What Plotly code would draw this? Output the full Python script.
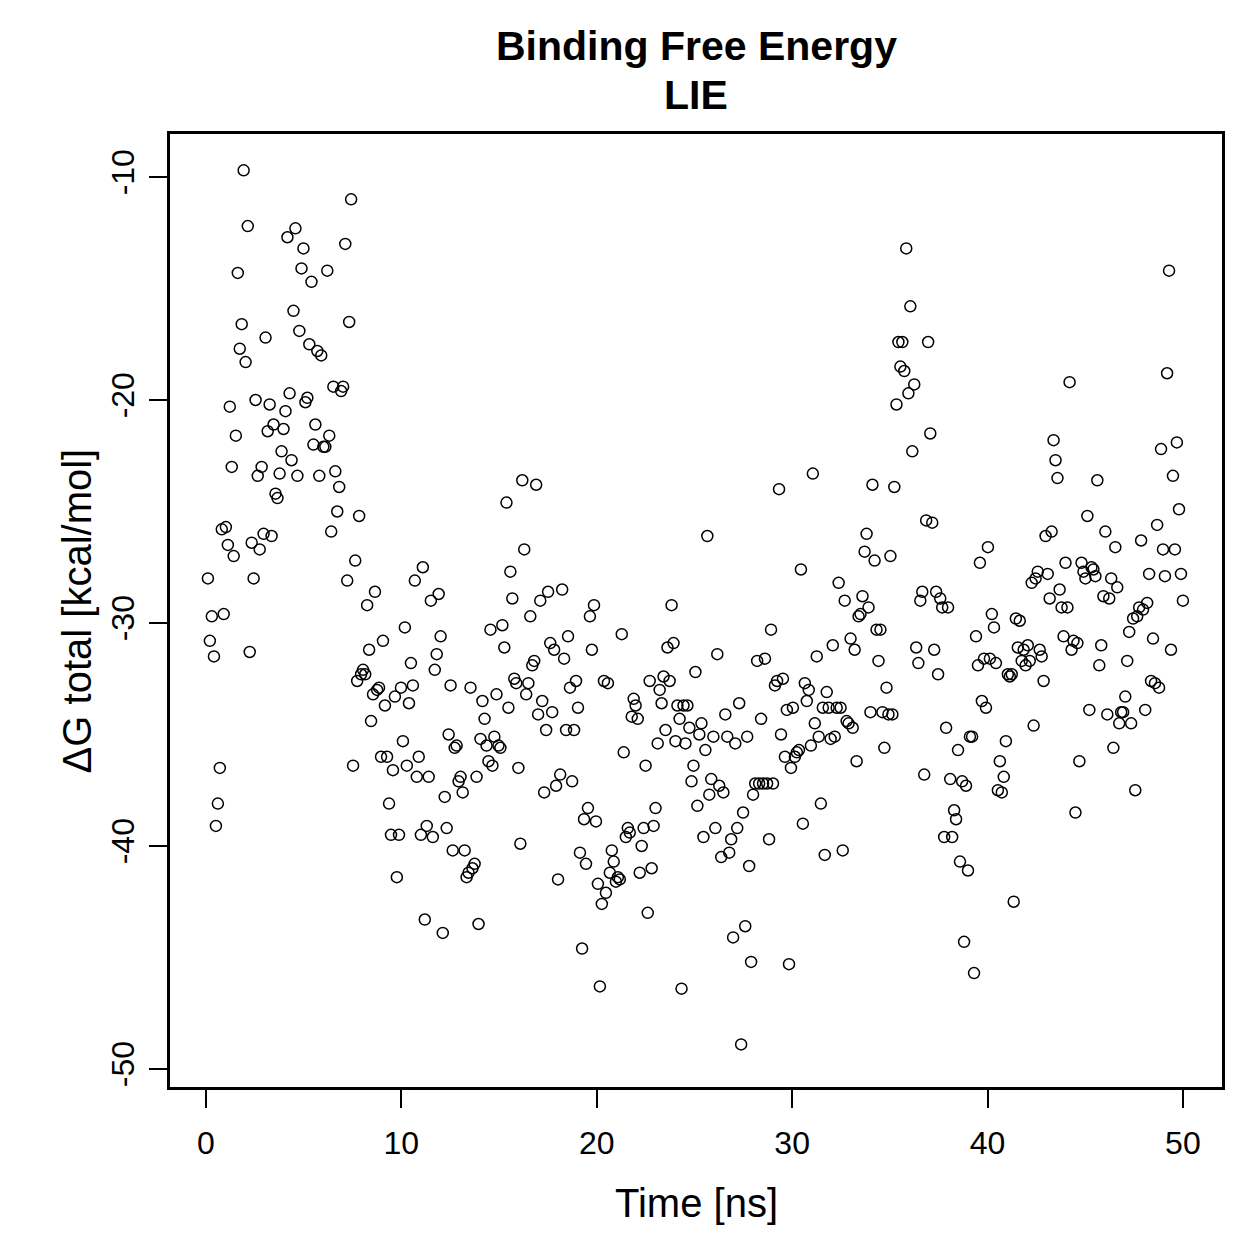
import numpy as np
import plotly.graph_objects as go

# Binding free energy (LIE), kcal/mol, sampled every 0.1 ns
energy = [
    -28.0, -30.8, -29.7, -31.5, -39.1, -38.1, -36.5, -25.8, -29.6, -25.7,
    -26.5, -20.3, -23.0, -27.0, -21.6, -14.3, -17.7, -16.6, -9.7, -18.3,
    -12.2, -31.3, -26.4, -28.0, -20.0, -23.4, -26.7, -23.0, -26.0, -17.2,
    -21.4, -20.2, -26.1, -21.1, -24.2, -24.4, -23.3, -22.3, -21.3, -20.5,
    -12.7, -19.7, -22.7, -16.0, -12.3, -23.4, -16.9, -14.1, -13.2, -20.1,
    -19.9, -17.5, -14.7, -22.0, -21.1, -17.8, -23.4, -18.0, -22.1, -22.1,
    -14.2, -21.6, -25.9, -19.4, -23.2, -25.0, -23.9, -19.6, -19.4, -13.0,
    -28.1, -16.5, -11.0, -36.4, -27.2, -32.6, -25.2, -32.3, -32.1, -32.3,
    -29.2, -31.2, -34.4, -33.2, -28.6, -33.0, -32.9, -36.0, -30.8, -33.7,
    -36.0, -38.1, -39.5, -36.6, -33.3, -41.4, -39.5, -32.9, -35.3, -30.2,
    -36.4, -33.6, -31.8, -32.8, -28.1, -36.9, -36.0, -39.5, -27.5, -43.3,
    -39.1, -36.9, -29.0, -39.6, -32.1, -31.4, -28.7, -30.6, -43.9, -37.8,
    -39.2, -35.0, -32.8, -40.2, -35.6, -35.5, -37.1, -36.9, -37.6, -40.2,
    -41.4, -41.2, -32.9, -41.0, -40.8, -36.9, -43.5, -35.2, -33.5, -34.3,
    -35.5, -36.2, -30.3, -36.4, -35.1, -33.2, -35.5, -35.6, -30.1, -31.1,
    -24.6, -33.8, -27.7, -28.9, -32.5, -32.7, -36.5, -39.9, -23.6, -26.7,
    -33.2, -32.7, -29.7, -31.9, -31.7, -23.8, -34.1, -29.0, -33.5, -37.6,
    -34.8, -28.6, -30.9, -34.0, -31.2, -37.3, -41.5, -36.8, -28.5, -31.6,
    -34.8, -30.6, -32.9, -37.1, -34.8, -32.6, -33.8, -40.3, -44.6, -38.8,
    -40.8, -38.3, -29.7, -31.2, -29.2, -38.9, -41.7, -46.3, -42.6, -32.6,
    -42.1, -32.7, -41.2, -40.2, -40.7, -41.6, -41.4, -41.5, -30.5, -35.8,
    -39.6, -39.2, -39.4, -34.2, -33.4, -33.7, -34.3, -41.2, -40.0, -39.2,
    -36.4, -43.0, -32.6, -41.0, -39.1, -38.3, -35.4, -33.0, -33.6, -32.4,
    -34.8, -31.1, -32.6, -29.2, -30.9, -35.3, -33.7, -34.3, -46.4, -33.7,
    -35.4, -33.7, -34.7, -37.1, -36.4, -32.2, -38.2, -35.0, -34.5, -39.6,
    -35.7, -26.1, -37.7, -37.0, -35.1, -39.2, -31.4, -37.3, -40.5, -37.6,
    -34.1, -35.1, -40.3, -39.7, -44.1, -35.4, -39.2, -33.6, -48.9, -38.5,
    -43.6, -35.1, -40.9, -45.2, -37.7, -37.2, -31.7, -37.2, -34.3, -37.2,
    -31.6, -37.2, -39.7, -30.3, -37.2, -32.8, -32.6, -24.0, -35.0, -32.5,
    -36.0, -33.9, -45.3, -36.5, -33.8, -36.0, -35.8, -35.7, -27.6, -39.0,
    -32.7, -33.5, -33.0, -35.5, -23.3, -34.5, -31.5, -35.1, -38.1, -33.8,
    -40.4, -33.1, -33.8, -35.2, -31.0, -35.1, -33.8, -28.2, -33.8, -40.2,
    -29.0, -34.4, -34.5, -30.7, -34.7, -31.2, -36.2, -29.7, -29.6, -28.8,
    -26.8, -26.0, -29.3, -34.0, -23.8, -27.2, -30.3, -31.7, -30.3, -34.0,
    -35.6, -32.9, -34.1, -27.0, -34.1, -23.9, -20.2, -17.4, -18.5, -17.4,
    -18.7, -13.2, -19.7, -15.8, -22.3, -19.3, -31.1, -31.8, -29.0, -28.6,
    -36.8, -25.4, -17.4, -21.5, -25.5, -31.2, -28.6, -32.3, -28.9, -29.3,
    -39.6, -34.7, -29.3, -37.0, -39.6, -38.4, -38.8, -35.7, -40.7, -37.1,
    -44.3, -37.3, -41.1, -35.1, -35.1, -45.7, -30.6, -31.9, -27.3, -33.5,
    -31.6, -33.8, -26.6, -31.6, -29.6, -30.2, -31.8, -37.5, -36.2, -37.6,
    -36.9, -35.3, -32.3, -32.4, -32.3, -42.5, -29.8, -31.1, -29.9, -31.7,
    -31.2, -31.9, -31.0, -31.7, -28.2, -34.6, -28.0, -27.7, -31.2, -31.5,
    -32.6, -26.1, -27.8, -28.9, -25.9, -21.8, -22.7, -23.5, -28.5, -29.3,
    -30.6, -27.3, -29.3, -19.2, -31.2, -30.8, -38.5, -30.9, -36.2, -27.3,
    -27.7, -28.0, -25.2, -33.9, -27.5, -27.6, -27.9, -23.6, -31.9, -31.0,
    -28.8, -25.9, -34.1, -28.9, -28.0, -35.6, -26.6, -28.4, -34.5, -34.0,
    -34.0, -33.3, -31.7, -30.4, -34.5, -29.8, -37.5, -29.7, -29.3, -26.3,
    -29.4, -33.9, -29.1, -27.8, -32.6, -30.7, -32.7, -25.6, -32.9, -22.2,
    -26.7, -27.9, -18.8, -14.2, -31.2, -23.4, -26.7, -21.9, -24.9, -27.8,
    -29.0,
]
time_ns = np.round(np.linspace(0.1, 50.0, len(energy)), 2)

x_ticks = [0, 10, 20, 30, 40, 50]
y_ticks = [-50, -40, -30, -20, -10]
y_tick_text = ["-50", "-40", "-30", "-20", "-10"]

FONT = "Liberation Sans, Arial, Helvetica, sans-serif"

fig = go.Figure()
fig.add_trace(go.Scatter(
    x=time_ns, y=energy, mode="markers",
    marker=dict(symbol="circle-open", size=11, color="black",
                line=dict(width=1.5, color="black")),
    showlegend=False, hoverinfo="x+y",
))

axis_common = dict(
    showgrid=False, zeroline=False, showline=True, linecolor="black",
    linewidth=2.5, mirror=True, ticks="outside", ticklen=18, tickwidth=2,
    tickcolor="black", tickfont=dict(family=FONT, size=32, color="black"),
)

fig.update_layout(
    width=1259, height=1259,
    margin=dict(l=170, r=37, t=134, b=172),
    paper_bgcolor="white", plot_bgcolor="white",
    font=dict(family=FONT, color="black"),
    xaxis=dict(range=[-1.84, 52.0], tickvals=x_ticks, ticklabelstandoff=8,
               **axis_common),
    yaxis=dict(range=[-50.81, -8.07], tickvals=y_ticks, ticktext=y_tick_text,
               tickangle=-90, ticklabelstandoff=2, **axis_common),
    annotations=[
        dict(text="<b>Binding Free Energy</b>", x=0.5, y=1.0924, xref="paper",
             yref="paper", showarrow=False, xanchor="center", yanchor="middle",
             font=dict(family=FONT, size=41, color="black")),
        dict(text="<b>LIE</b>", x=0.5, y=1.0409, xref="paper", yref="paper",
             showarrow=False, xanchor="center", yanchor="middle",
             font=dict(family=FONT, size=41, color="black")),
        dict(text="Time [ns]", x=0.5, y=-0.1217, xref="paper", yref="paper",
             showarrow=False, xanchor="center", yanchor="middle",
             font=dict(family=FONT, size=40, color="black")),
        dict(text="ΔG total [kcal/mol]", x=-0.0885, y=0.5, xref="paper",
             yref="paper", showarrow=False, xanchor="center", yanchor="middle",
             textangle=-90, font=dict(family=FONT, size=40, color="black")),
    ],
)

fig.write_html("out.html")
